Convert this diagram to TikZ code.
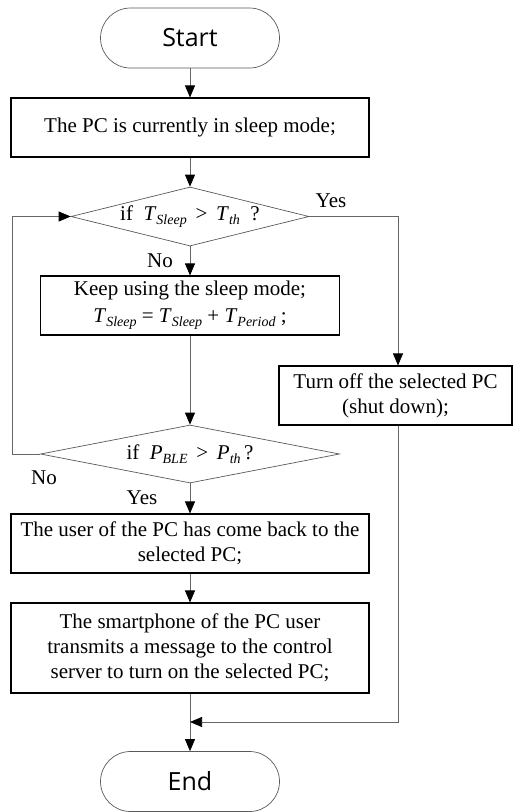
\documentclass[tikz,border=0pt]{standalone}
\usepackage{fontspec}
\setmainfont{Liberation Serif}
\newfontfamily\termfont{Open Sans}
\usetikzlibrary{shapes.geometric,arrows.meta}
\newcommand\sbs[1]{\raisebox{-0.4ex}{\fontsize{14}{14}\selectfont\itshape #1}}
\begin{document}
\begin{tikzpicture}[x=1pt,y=-1pt,
 txt/.style={font=\fontsize{21}{25}\selectfont},
 proc/.style={txt,draw=black,line width=1.1pt,rectangle,align=center,inner sep=0pt},
 term/.style={draw=black!65,line width=0.7pt,rounded corners=30pt,minimum width=179pt,minimum height=60pt,inner sep=0pt,font=\termfont\fontsize{25}{30}\selectfont},
 dec/.style={txt,draw=black!65,line width=0.7pt,diamond,aspect=4,inner sep=0pt},
 conn/.style={draw=black!60,line width=0.7pt},
 arr/.style={conn,-{Triangle[length=12pt,width=10pt,color=black]}},
 lab/.style={txt,inner sep=0pt}]
\useasboundingbox (0,0) rectangle (513,812);
\node[term] (start) at (190,38) {Start};
\node[proc,minimum width=358pt,minimum height=59pt] (b1) at (190,127.5) {The PC is currently in sleep mode;};
\node[dec,minimum width=238pt,minimum height=59pt] (d1) at (190,216.5) {if\ \ \textit{T}\sbs{Sleep} \,>\, \textit{T}\sbs{th}\ \ ?};
\node[proc,minimum width=299pt,minimum height=59pt] (b2) at (190,305.5) {Keep using the sleep mode;\\[2pt] \textit{T}\sbs{Sleep} = \textit{T}\sbs{Sleep} + \textit{T}\sbs{Period}\ ;};
\node[dec,minimum width=299pt,minimum height=58pt] (d2) at (190,454) {if\ \ \textit{P}\sbs{BLE} \,>\, \textit{P}\sbs{th}\,?};
\node[proc,minimum width=358pt,minimum height=59pt] (b3) at (190,543.5) {The user of the PC has come back to the\\ selected PC;};
\node[proc,minimum width=358pt,minimum height=90pt] (b4) at (190,648) {The smartphone of the PC user\\ transmits a message to the control\\ server to turn on the selected PC;};
\node[proc,minimum width=233pt,minimum height=59pt] (b5) at (395.5,395.5) {Turn off the selected PC\\ (shut down);};
\node[term] (end) at (190,781.5) {End};

\coordinate (m) at (190,722);
\coordinate (r1) at (398,216.5);
\coordinate (r2) at (398,722);
\coordinate (l1) at (12,454);
\coordinate (l2) at (12,216.5);

\draw[arr] (start) -- (b1);
\draw[arr] (b1) -- (d1);
\draw[arr] (d1) -- (b2);
\draw[arr] (b2) -- (d2);
\draw[arr] (d2) -- (b3);
\draw[arr] (b3) -- (b4);
\draw[arr] (b4) -- (end);
\draw[arr] (d2.west) -- (l1) -- (l2) -- (d1.west);
\draw[arr] (d1.east) -- (r1) -- (r1 |- b5.north);
\draw[arr] (r1 |- b5.south) -- (r2) -- (m);

\node[lab] (yes1) at (331,201) {Yes};
\node[lab] (no1) at (160,261) {No};
\node[lab] (no2) at (44,478) {No};
\node[lab] (yes2) at (142,498) {Yes};
\end{tikzpicture}
\end{document}
